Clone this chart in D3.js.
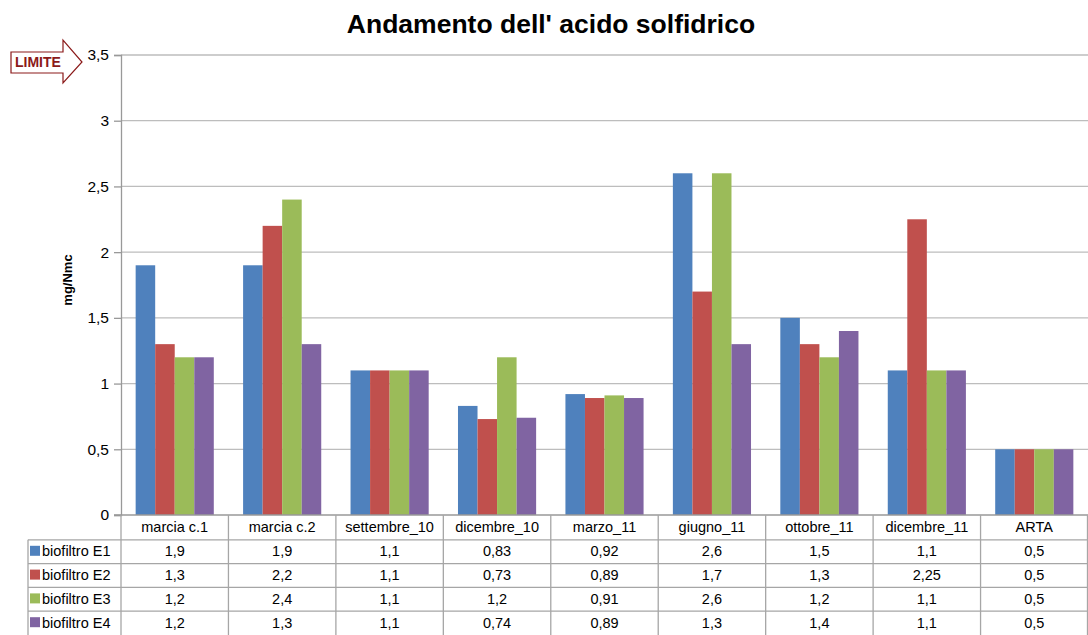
<!DOCTYPE html>
<html>
<head>
<meta charset="utf-8">
<script src="https://cdn.jsdelivr.net/npm/d3@7"></script>
<style>
  body { margin: 0; background: #fff; }
  svg { display: block; font-family: "Liberation Sans", Arial, sans-serif; }
</style>
</head>
<body>
<svg id="chart" width="1088" height="635"></svg>
<script>
// Sampling campaigns
const categories = ["marcia c.1", "marcia c.2", "settembre_10", "dicembre_10", "marzo_11", "giugno_11", "ottobre_11", "dicembre_11", "ARTA"];
// Measured H2S (mg/Nmc) per biofilter
const seriesNames = ["biofiltro E1", "biofiltro E2", "biofiltro E3", "biofiltro E4"];
const e1 = [1.9, 1.9, 1.1, 0.83, 0.92, 2.6, 1.5, 1.1, 0.5];
const e2 = [1.3, 2.2, 1.1, 0.73, 0.89, 1.7, 1.3, 2.25, 0.5];
const e3 = [1.2, 2.4, 1.1, 1.2, 0.91, 2.6, 1.2, 1.1, 0.5];
const e4 = [1.2, 1.3, 1.1, 0.74, 0.89, 1.3, 1.4, 1.1, 0.5];
const yTicks = [0, 0.5, 1, 1.5, 2, 2.5, 3, 3.5];
const colors = ["#4F81BD", "#C0504D", "#9BBB59", "#8064A2"];

const seriesValues = [e1, e2, e3, e4];
const fmt = v => String(v).replace(".", ",");

const svg = d3.select("#chart");
const plotLeft = 121, plotRight = 1088, plotTop = 55, plotBottom = 515;
const rowH = 23.8;
const cellFont = 14.5;

const x = d3.scaleBand().domain(categories).range([plotLeft, plotRight]).paddingInner(0).paddingOuter(0);
const xs = d3.scaleBand().domain(seriesNames).range([0, x.bandwidth()]).paddingInner(0).paddingOuter(0.75);
const y = d3.scaleLinear().domain([0, 3.5]).range([plotBottom, plotTop]);

// Title
svg.append("text").attr("x", 551).attr("y", 33).attr("text-anchor", "middle")
  .attr("font-size", 26.5).attr("font-weight", "bold").attr("fill", "#000")
  .text("Andamento dell' acido solfidrico");

// Gridlines
svg.append("g").selectAll("line").data(yTicks.filter(t => t > 0)).join("line")
  .attr("x1", plotLeft).attr("x2", plotRight).attr("y1", d => y(d)).attr("y2", d => y(d))
  .attr("stroke", "#bdbdbd").attr("stroke-width", 1.3);

// Y axis
const yAxis = d3.axisLeft(y).tickValues(yTicks).tickSize(7).tickPadding(5).tickFormat(fmt);
const gy = svg.append("g").attr("transform", `translate(${plotLeft},0)`).call(yAxis);
gy.select(".domain").attr("stroke", "#999").attr("stroke-width", 1.3);
gy.selectAll(".tick line").attr("stroke", "#999").attr("stroke-width", 1.3);
gy.selectAll(".tick text").attr("font-size", 15.5).attr("fill", "#000")
  .attr("font-family", "Liberation Sans, Arial, sans-serif");

// Y axis title
svg.append("text").attr("transform", "translate(72,280) rotate(-90)")
  .attr("text-anchor", "middle").attr("font-size", 13).attr("font-weight", "bold")
  .text("mg/Nmc");

// Bars
const groups = svg.append("g").selectAll("g").data(categories).join("g")
  .attr("transform", d => `translate(${x(d)},0)`);
groups.selectAll("rect").data((c, i) => seriesNames.map((s, k) => ({ s, k, v: seriesValues[k][i] })))
  .join("rect")
  .attr("x", d => xs(d.s)).attr("width", xs.bandwidth())
  .attr("y", d => y(d.v)).attr("height", d => y(0) - y(d.v))
  .attr("fill", d => colors[d.k]);

// Data table
const tbl = svg.append("g");
const gridColor = "#a6a6a6";
tbl.append("line").attr("x1", plotLeft - 7).attr("x2", plotRight).attr("y1", plotBottom).attr("y2", plotBottom)
  .attr("stroke", "#999").attr("stroke-width", 1.3);
for (let r = 1; r <= 4; r++) {
  tbl.append("line").attr("x1", 28).attr("x2", plotRight)
    .attr("y1", plotBottom + rowH * r + 1).attr("y2", plotBottom + rowH * r + 1)
    .attr("stroke", gridColor).attr("stroke-width", 1.3);
}
categories.forEach(c => {
  tbl.append("line").attr("x1", x(c)).attr("x2", x(c)).attr("y1", plotBottom).attr("y2", 635)
    .attr("stroke", gridColor).attr("stroke-width", 1.3);
});
tbl.append("line").attr("x1", plotRight - 0.5).attr("x2", plotRight - 0.5).attr("y1", plotBottom).attr("y2", 635)
  .attr("stroke", gridColor).attr("stroke-width", 1.3);
tbl.append("line").attr("x1", 28).attr("x2", 28).attr("y1", plotBottom + rowH + 1).attr("y2", 635)
  .attr("stroke", gridColor).attr("stroke-width", 1.3);

// Header row
tbl.selectAll("text.cat").data(categories).join("text").attr("class", "cat")
  .attr("x", d => x(d) + x.bandwidth() / 2).attr("y", plotBottom + 17)
  .attr("text-anchor", "middle").attr("font-size", cellFont).text(d => d);

// Legend column and values
seriesNames.forEach((s, k) => {
  const ry = plotBottom + rowH * (k + 1) + 1;
  tbl.append("rect").attr("x", 30).attr("y", ry + 6).attr("width", 10).attr("height", 10).attr("fill", colors[k]);
  tbl.append("text").attr("x", 42).attr("y", ry + 16.5).attr("font-size", cellFont).text(s);
  tbl.selectAll(null).data(seriesValues[k]).join("text")
    .attr("x", (d, i) => x(categories[i]) + x.bandwidth() / 2).attr("y", ry + 16.5)
    .attr("text-anchor", "middle").attr("font-size", cellFont).text(d => fmt(d));
});

// LIMITE arrow marker pointing at the 3,5 threshold
const arrow = svg.append("g");
arrow.append("path")
  .attr("d", "M11,52 L63,52 L63,40 L82,62 L63,83 L63,73 L11,73 Z")
  .attr("fill", "#fff").attr("stroke", "#8B1A1A").attr("stroke-width", 1.2);
arrow.append("text").attr("x", 15).attr("y", 67).attr("font-size", 14).attr("font-weight", "bold")
  .attr("fill", "#8B1A1A").text("LIMITE");
</script>
</body>
</html>
